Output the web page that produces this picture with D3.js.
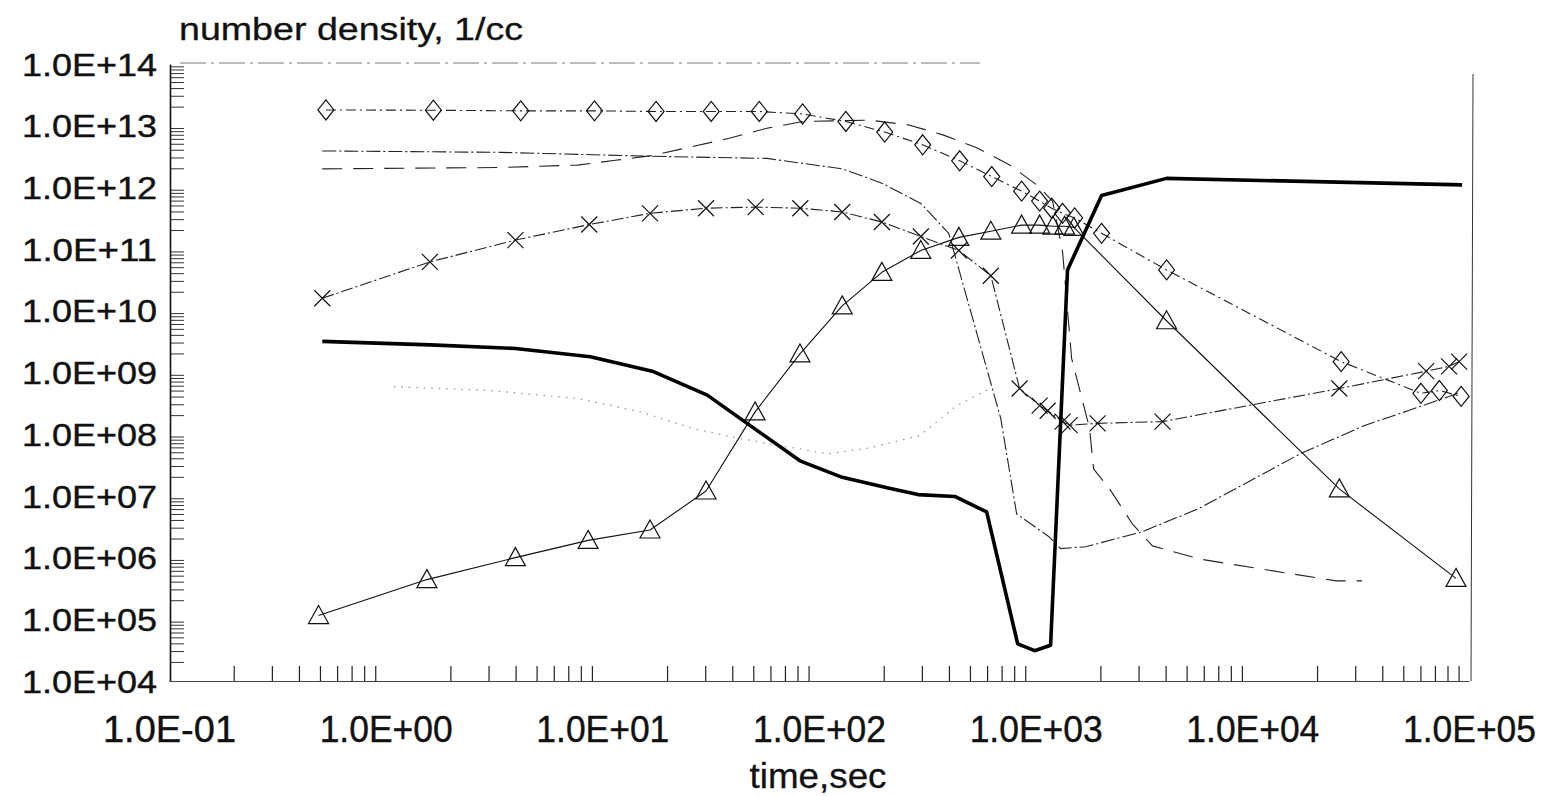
<!DOCTYPE html>
<html>
<head>
<meta charset="utf-8">
<script src="https://cdn.jsdelivr.net/npm/d3@7"></script>
<style>
  html, body { margin: 0; padding: 0; background: #fff; }
  svg { display: block; font-family: "Liberation Sans", Arial, Helvetica, sans-serif; }
</style>
</head>
<body>
<svg width="1543" height="796"></svg>
<script>
// values: time in sec, number density in 1/cc

// diamonds, dash-dot line
const diamondTime = [0.53, 1.66, 4.2, 9.2, 17.7, 31.8, 53, 84, 133, 201, 301, 446, 627, 861,
  1043, 1186, 1331, 1513, 2015, 4020, 25700, 60000, 73000, 92000];
const diamondDensity = [1.8e13, 1.78e13, 1.74e13, 1.74e13, 1.7e13, 1.7e13, 1.7e13, 1.55e13, 1.17e13,
  7.9e12, 4.9e12, 2.7e12, 1.5e12, 8.7e11, 6.0e11, 4.6e11, 3.8e11, 3.2e11, 1.8e11, 4.6e10, 1.5e9,
  4.6e8, 5.1e8, 4.1e8];

// crosses
const crossTime = [0.51, 1.6, 3.97, 8.7, 16.6, 30.1, 51, 82, 128, 195, 295, 442, 621, 843,
  1043, 1136, 1331, 1435, 1931, 3850, 25200, 63400, 80900, 90000];
const crossDensity = [1.6e10, 6.2e10, 1.4e11, 2.5e11, 3.8e11, 4.6e11, 4.8e11, 4.6e11, 4.0e11,
  2.75e11, 1.6e11, 9.5e10, 3.7e10, 5.5e8, 2.9e8, 2.4e8, 1.6e8, 1.4e8, 1.5e8, 1.6e8, 5.5e8,
  1.05e9, 1.26e9, 1.5e9];

// triangles, thin solid line
const triangleTime = [0.49, 1.55, 3.97, 8.6, 16.6, 30.1, 50.7, 81.7, 128, 195, 295, 442, 621,
  861, 1043, 1200, 1360, 1500, 4018, 25200, 87100];
const triangleDensity = [1.15e5, 4.4e5, 1.0e6, 1.9e6, 2.8e6, 1.2e7, 2.3e8, 2.0e9, 1.2e10, 4.2e10,
  9.5e10, 1.55e11, 1.95e11, 2.45e11, 2.45e11, 2.35e11, 2.35e11, 2.25e11, 6.9e9, 1.3e7, 4.6e5];

// heavy solid line
const heavyTime = [0.51, 1.61, 3.97, 8.8, 17.0, 30.5, 81.7, 128, 206, 286, 423, 594, 826, 989,
  1172, 1403, 2015, 4018, 92900];
const heavyDensity = [3.2e9, 2.8e9, 2.45e9, 1.8e9, 1.05e9, 4.3e8, 3.7e7, 2.0e7, 1.35e7, 1.05e7,
  9.8e6, 5.5e6, 4.0e4, 3.1e4, 3.8e4, 4.6e10, 7.4e11, 1.4e12, 1.1e12];

// thin dash-dot line, no markers
const dashDotTime = [0.51, 3.39, 16.6, 57.5, 128, 195, 295, 397, 690, 817, 1148, 1303, 1700,
  3078, 5640, 16800, 33200, 52300, 88900];
const dashDotDensity = [3.9e12, 3.7e12, 3.2e12, 2.95e12, 2.0e12, 1.17e12, 5.5e11, 1.8e11, 1.8e8,
  5.1e6, 2.2e6, 1.4e6, 1.5e6, 2.6e6, 6.2e6, 4.9e7, 1.4e8, 2.4e8, 4.6e8];

// long dashes, no markers
const dashedTime = [0.51, 3.39, 7.67, 11.5, 17.2, 24.6, 38.9, 57.5, 84.4, 172, 262, 373, 535,
  759, 1011, 1197, 1331, 1465, 1774, 1850, 2193, 2799, 3459, 5700, 10770, 24400, 32100];
const dashedDensity = [2.0e12, 2.1e12, 2.3e12, 2.75e12, 3.3e12, 4.4e12, 6.3e12, 9.1e12, 1.17e13,
  1.23e13, 1.02e13, 7.1e12, 4.4e12, 2.3e12, 1.1e12, 6.0e11, 9.1e10, 1.7e9, 1.23e8, 2.75e7, 1.3e7,
  3.5e6, 1.55e6, 9.5e5, 6.6e5, 4.2e5, 4.2e5];

// faint dotted line
const dottedTime = [1.09, 3.05, 7.67, 15.0, 26.3, 43.3, 110, 166, 292, 432, 614];
const dottedDensity = [5.9e8, 5.1e8, 3.8e8, 2.3e8, 1.23e8, 8.5e7, 4.8e7, 5.9e7, 9.5e7, 2.9e8, 5.5e8];

// axis decades
const timeTicks = [1e-1, 1e0, 1e1, 1e2, 1e3, 1e4, 1e5];
const densityTicks = [1e4, 1e5, 1e6, 1e7, 1e8, 1e9, 1e10, 1e11, 1e12, 1e13, 1e14];

const svg = d3.select('svg');

const x = d3.scaleLog().domain([1e-1, 1e5]).range([169, 1469]);
const y = d3.scaleLog().domain([1e4, 1e14]).range([681, 64]);

// 1.0E+14 style labels
const sci = function(d) {
  const e = Math.round(Math.log10(d));
  return '1.0E' + (e < 0 ? '-' : '+') + String(Math.abs(e)).padStart(2, '0');
};

// frame: faint dashed top (fades out in the scan), thin right
svg.append('line')
  .attr('x1', 180).attr('x2', 980).attr('y1', 63).attr('y2', 63)
  .attr('stroke', '#555').attr('stroke-width', 0.8)
  .attr('stroke-dasharray', '26,5,3,5');
svg.append('line')
  .attr('x1', 1473).attr('x2', 1471).attr('y1', 74).attr('y2', 681)
  .attr('stroke', '#333').attr('stroke-width', 1);

// minor ticks (2..9 per decade), drawn inward
const minor = function(v) {
  const r = v / Math.pow(10, Math.floor(Math.log10(v) + 1e-9));
  return Math.abs(r - 1) > 1e-6;
};
svg.append('g').selectAll('line')
  .data(x.ticks(20).filter(minor))
  .join('line')
  .attr('x1', d => x(d)).attr('x2', d => x(d))
  .attr('y1', 681).attr('y2', 666)
  .attr('stroke', '#222').attr('stroke-width', 1.2);
svg.append('g').selectAll('line')
  .data(y.ticks(30).filter(minor))
  .join('line')
  .attr('x1', 170).attr('x2', 184)
  .attr('y1', d => y(d)).attr('y2', d => y(d))
  .attr('stroke', '#333').attr('stroke-width', 1);

// https://github.com/d3/d3-axis
const yAxis = svg.append('g')
  .attr('transform', 'translate(170,0)')
  .call(d3.axisLeft(y).tickValues(densityTicks).tickFormat(sci).tickSize(0).tickPadding(13));
yAxis.select('.domain').attr('stroke', '#111').attr('stroke-width', 1.6);
yAxis.selectAll('text')
  .attr('fill', '#111').attr('stroke', '#111').attr('stroke-width', 0.4)
  .attr('font-size', 31).attr('dy', '0.36em')
  .attr('textLength', 135).attr('lengthAdjust', 'spacingAndGlyphs');

const xAxis = svg.append('g')
  .attr('transform', 'translate(0,681)')
  .call(d3.axisBottom(x).tickValues(timeTicks).tickFormat(sci).tickSize(0));
xAxis.select('.domain').attr('stroke', '#444').attr('stroke-width', 1);
xAxis.selectAll('text')
  .attr('fill', '#111').attr('stroke', '#111').attr('stroke-width', 0.4)
  .attr('font-size', 36).attr('y', 61).attr('dy', 0)
  .attr('textLength', 133).attr('lengthAdjust', 'spacingAndGlyphs');

// titles
svg.append('text')
  .attr('x', 179).attr('y', 40)
  .attr('font-size', 31).attr('fill', '#111')
  .attr('stroke', '#111').attr('stroke-width', 0.3)
  .attr('textLength', 344).attr('lengthAdjust', 'spacingAndGlyphs')
  .text('number density, 1/cc');
svg.append('text')
  .attr('x', 818).attr('y', 788).attr('text-anchor', 'middle')
  .attr('font-size', 35).attr('fill', '#111')
  .attr('stroke', '#111').attr('stroke-width', 0.3)
  .attr('textLength', 137).attr('lengthAdjust', 'spacingAndGlyphs')
  .text('time,sec');

// curves
const series = [
  { t: dottedTime, n: dottedDensity, color: '#999', width: 1.3, dash: '1.5,6' },
  { t: dashedTime, n: dashedDensity, color: '#222', width: 1.1, dash: '20,11' },
  { t: dashDotTime, n: dashDotDensity, color: '#222', width: 1.1, dash: '14,3,2,3' },
  { t: triangleTime, n: triangleDensity, color: '#111', width: 1.1, dash: null, marker: 'triangle' },
  { t: crossTime, n: crossDensity, color: '#222', width: 1.1, dash: '12,3,2,3', marker: 'cross' },
  { t: diamondTime, n: diamondDensity, color: '#222', width: 1.1, dash: '10,4,2,4', marker: 'diamond' },
  { t: heavyTime, n: heavyDensity, color: '#000', width: 3.6, dash: null },
];

const markerPath = {
  diamond: 'M0,-10L8,0L0,10L-8,0Z',
  cross: 'M-8,-8L8,8M-8,8L8,-8',
  triangle: 'M0,-10L10,8L-10,8Z',
};

const line = d3.line()
  .x(d => x(d[0]))
  .y(d => y(d[1]));

const plot = svg.append('g');
series.forEach(function(s) {
  const points = d3.zip(s.t, s.n);
  plot.append('path')
    .attr('d', line(points))
    .attr('fill', 'none')
    .attr('stroke', s.color)
    .attr('stroke-width', s.width)
    .attr('stroke-linejoin', 'round')
    .attr('stroke-dasharray', s.dash);
  if (!s.marker) return;
  plot.append('g').selectAll('path')
    .data(points)
    .join('path')
    .attr('transform', d => 'translate(' + x(d[0]) + ',' + y(d[1]) + ')')
    .attr('d', markerPath[s.marker])
    .attr('fill', 'none')
    .attr('stroke', '#111')
    .attr('stroke-width', 1.2);
});
</script>
</body>
</html>
